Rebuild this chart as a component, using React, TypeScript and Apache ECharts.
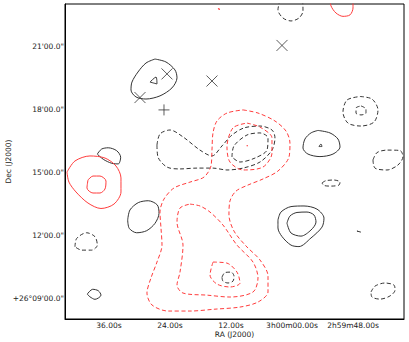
import React, { useEffect, useRef } from "react";
import * as echarts from "echarts";

// Axis ticks: RA in seconds relative to 3h00m00s, Dec in arcmin above +26°00'
const xTickValues = [36, 24, 12, 0, -12];
const xTickLabels = ["36.00s", "24.00s", "12.00s", "3h00m00.00s", "2h59m48.00s"];
const yTickValues = [9, 12, 15, 18, 21];
const yTickLabels = ["+26°09'00.0\"", "12'00.0\"", "15'00.0\"", "18'00.0\"", "21'00.0\""];

const blackSolidContours: number[][][] = [
  [[26.95,20.42],[24.79,20.28],[23.02,19.90],[22.62,19.52],[23.61,19.04],[25.97,18.66],[28.72,18.51],[30.69,18.61],[31.67,18.94],[31.48,19.32],[30.30,19.80],[28.72,20.23]],
  [[27.93,19.32],[26.75,19.56],[26.56,19.23]],
  [[38.30,15.88],[37.44,16.12],[36.14,16.18],[34.48,16.04],[33.70,15.73],[34.17,15.41],[35.47,15.44],[37.12,15.63]],
  [[32.32,12.73],[31.87,13.21],[30.24,13.56],[28.27,13.65],[26.50,13.45],[26.16,13.05],[26.95,12.57],[28.58,12.22],[30.55,12.12],[32.01,12.33]],
  [[40.27,9.19],[39.21,9.42],[38.10,9.35],[37.57,9.14],[38.75,8.94],[39.74,9.06]],
  [[-5.11,17.01],[-7.47,16.89],[-9.04,16.60],[-9.44,16.22],[-8.06,15.88],[-5.50,15.76],[-3.14,15.88],[-2.16,16.17],[-2.55,16.60],[-3.73,16.89]],
  [[-5.31,16.24],[-5.70,16.36],[-5.90,16.24]],
  [[2.76,12.73],[2.17,13.11],[0.20,13.37],[-2.36,13.40],[-4.91,13.25],[-6.29,12.82],[-5.90,12.39],[-3.73,11.87],[-1.37,11.46],[0.20,11.53],[1.97,11.94],[2.76,12.35]],
  [[0.99,12.58],[0.40,12.92],[-0.98,13.09],[-2.95,13.11],[-4.32,12.97],[-4.72,12.63],[-3.73,12.25],[-1.77,11.96],[0.20,12.11]],
];

const blackDashedContours: number[][][] = [
  [[26.56,16.31],[25.97,16.84],[24.00,17.03],[21.44,16.70],[18.10,16.07],[15.74,15.79],[13.77,16.27],[11.81,16.79],[9.44,17.13],[6.30,17.22],[3.94,17.03],[3.35,16.65],[3.94,16.07],[6.30,15.50],[9.64,15.21],[12.79,15.12],[15.54,15.21],[18.69,15.21],[22.03,15.17],[24.59,15.26],[26.36,15.74]],
  [[11.81,15.74],[11.41,16.27],[8.86,16.79],[6.30,16.89],[4.72,16.65],[4.92,16.07],[7.28,15.69],[10.23,15.50]],
  [[2.36,23.24],[2.76,22.77],[1.77,22.38],[0.20,22.24],[-1.37,22.38],[-2.16,22.72],[-1.96,23.24]],
  [[-13.37,18.63],[-15.73,18.51],[-16.91,17.99],[-16.13,17.41],[-13.57,17.22],[-11.01,17.36],[-10.03,17.89],[-10.81,18.46]],
  [[-13.57,18.18],[-14.55,18.03],[-14.55,17.84],[-13.57,17.75],[-12.59,17.84],[-12.59,18.08]],
  [[-15.93,15.60],[-16.72,15.95],[-18.68,16.07],[-21.24,16.05],[-21.83,15.76],[-20.85,15.36],[-18.68,15.12],[-16.32,15.21]],
  [[-5.90,14.50],[-6.68,14.61],[-8.26,14.64],[-9.44,14.54],[-9.24,14.40],[-7.67,14.35],[-6.29,14.38]],
  [[-12.78,12.20],[-13.57,12.15]],
  [[-15.54,9.29],[-16.32,9.57],[-18.29,9.72],[-20.06,9.62],[-20.26,9.38],[-19.27,9.10],[-17.31,8.95],[-15.73,9.05]],
  [[13.77,10.00],[13.18,10.22],[12.00,10.24],[11.41,10.05],[11.61,9.81],[12.59,9.72],[13.58,9.81]],
  [[42.69,11.45],[42.35,11.85],[40.39,12.12],[38.75,11.93],[38.30,11.53],[39.40,11.29],[41.37,11.29]],
];

const redSolidContours: number[][][] = [
  [[44.26,15.02],[42.69,15.55],[39.74,15.79],[36.79,15.69],[34.62,15.31],[33.64,14.74],[33.64,14.07],[35.02,13.49],[37.57,13.28],[40.13,13.54],[42.49,14.07],[43.87,14.54]],
  [[40.13,14.64],[39.15,14.83],[37.77,14.83],[36.59,14.59],[36.79,14.21],[37.77,14.02],[39.15,14.02],[40.33,14.26]],
  [[-7.47,23.34],[-7.67,22.96],[-8.65,22.62],[-10.03,22.46],[-11.41,22.53],[-12.00,22.86],[-12.00,23.34]],
  [[14.56,22.83],[14.17,22.79]],
];

const redDashedContours: number[][][] = [
  [[9.64,17.99],[6.69,17.84],[3.35,17.46],[1.18,16.98],[0.40,16.41],[0.59,15.74],[2.76,15.07],[5.71,14.69],[8.66,14.40],[11.02,14.11],[12.20,13.64],[12.40,12.97],[11.41,12.20],[9.05,11.49],[6.30,10.82],[4.72,10.05],[4.72,9.29],[6.69,8.81],[10.23,8.57],[15.15,8.47],[20.07,8.38],[24.39,8.38],[27.54,8.67],[28.53,9.24],[27.74,9.96],[26.56,10.72],[25.57,11.53],[25.77,12.35],[25.97,13.11],[25.18,13.73],[23.21,14.26],[20.07,14.54],[17.31,14.78],[15.94,15.31],[15.74,16.07],[15.54,16.89],[14.76,17.46],[12.79,17.84]],
  [[8.86,17.36],[6.30,17.17],[3.94,16.65],[3.94,15.93],[5.71,15.26],[9.64,15.12],[12.20,15.50],[12.79,16.22],[11.61,17.13]],
  [[20.07,13.49],[18.10,13.40],[16.13,13.11],[13.58,12.49],[10.82,11.53],[7.67,10.72],[6.69,9.96],[7.67,9.29],[12.20,9.05],[16.72,9.14],[21.44,9.24],[22.62,9.62],[22.03,10.24],[21.44,11.53],[22.62,12.63],[22.03,13.30]],
  [[15.54,10.72],[12.79,10.67],[10.82,10.24],[10.23,9.72],[12.20,9.53],[14.76,9.67],[16.13,10.10]],
  [[8.9,16.28],[8.7,16.28]],
];

const crossMarkers = [[29.90,18.58],[24.59,19.71],[15.74,19.37],[1.97,21.07]];
const plusMarkers = [[25.18,17.99]];

const BLACK = "#333333";
const RED = "#ff3c3c";
const FONT = "DejaVu Sans";

function contourSeries(list: number[][][], color: string, dashed: boolean) {
  return list.map((pts) => ({
    type: "line",
    data: [...pts, pts[0]],
    smooth: 0.3,
    showSymbol: false,
    symbol: "none",
    silent: true,
    clip: true,
    lineStyle: { color, width: 1, type: dashed ? [4, 2.5] : "solid" },
  }));
}

export default function App() {
  const ref = useRef<HTMLDivElement>(null);
  useEffect(() => {
    if (!ref.current) return;
    const chart = echarts.init(ref.current, undefined, { renderer: "svg" });
    const labelStyle = { fontFamily: FONT, fontSize: 7.5, color: "#222" };
    chart.setOption({
      animation: false,
      backgroundColor: "#fff",
      grid: {
        left: 65, right: 5, top: 4, bottom: 23,
        containLabel: false,
        outerBoundsMode: "none",
        show: true, borderColor: "#000", borderWidth: 1,
      },
      xAxis: {
        type: "value",
        inverse: true,
        min: -22.03,
        max: 44.65,
        name: "RA (J2000)",
        nameLocation: "middle",
        nameGap: 11,
        nameMoveOverlap: false,
        nameTextStyle: { ...labelStyle, verticalAlign: "top" },
        axisLine: { show: true, onZero: false, lineStyle: { color: "#000", width: 1 } },
        axisTick: { show: false },
        splitLine: { show: false },
        axisLabel: {
          ...labelStyle,
          margin: 2,
          customValues: xTickValues,
          formatter: (v: number) => {
            const i = xTickValues.findIndex((t) => Math.abs(t - v) < 1e-6);
            return i >= 0 ? xTickLabels[i] : "";
          },
        },
      },
      yAxis: {
        type: "value",
        min: 8.0,
        max: 23.05,
        name: "Dec (J2000)",
        nameLocation: "middle",
        nameGap: 57,
        nameMoveOverlap: false,
        nameTextStyle: { ...labelStyle, verticalAlign: "middle" },
        axisLine: { show: true, onZero: false, lineStyle: { color: "#000", width: 1 } },
        axisTick: { show: false },
        splitLine: { show: false },
        axisLabel: {
          ...labelStyle,
          margin: 1,
          customValues: yTickValues,
          formatter: (v: number) => {
            const i = yTickValues.findIndex((t) => Math.abs(t - v) < 1e-6);
            return i >= 0 ? yTickLabels[i] : "";
          },
        },
      },
      series: [
        ...contourSeries(blackSolidContours, BLACK, false),
        ...contourSeries(blackDashedContours, BLACK, true),
        ...contourSeries(redSolidContours, RED, false),
        ...contourSeries(redDashedContours, RED, true),
        {
          type: "scatter",
          data: crossMarkers,
          symbol: "path://M0,0L10,10M10,0L0,10",
          symbolSize: 11,
          silent: true,
          itemStyle: { color: "transparent", borderColor: BLACK, borderWidth: 1 },
        },
        {
          type: "scatter",
          data: plusMarkers,
          symbol: "path://M5,0L5,10M0,5L10,5",
          symbolSize: 11,
          silent: true,
          itemStyle: { color: "transparent", borderColor: BLACK, borderWidth: 1 },
        },
      ],
    });
    return () => chart.dispose();
  }, []);
  return (
    <div
      ref={ref}
      style={{ position: "fixed", left: 0, top: 0, width: 409, height: 342, background: "#fff" }}
    />
  );
}
